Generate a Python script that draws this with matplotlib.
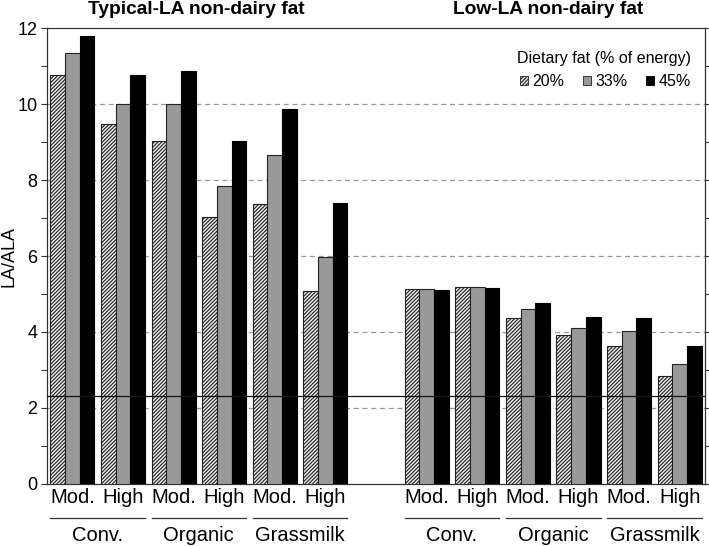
import matplotlib
matplotlib.use("Agg")
import matplotlib.pyplot as plt
from matplotlib.patches import Patch
import numpy as np

plt.rcParams['font.family'] = ['Liberation Sans', 'DejaVu Sans']
plt.rcParams['hatch.linewidth'] = 0.8
plt.rcParams['hatch.color'] = '#222222'

# Data
levels = ["Mod.", "High", "Mod.", "High", "Mod.", "High"]
milk_types = ["Conv.", "Organic", "Grassmilk"]
series_labels = ["20%", "33%", "45%"]
typical_20 = [10.76, 9.48, 9.02, 7.04, 7.37, 5.09]
typical_33 = [11.34, 10.01, 10.00, 7.84, 8.65, 5.97]
typical_45 = [11.80, 10.78, 10.88, 9.03, 9.87, 7.39]
low_20 = [5.14, 5.19, 4.37, 3.91, 3.62, 2.83]
low_33 = [5.12, 5.18, 4.60, 4.11, 4.03, 3.15]
low_45 = [5.10, 5.15, 4.77, 4.38, 4.37, 3.63]
reference_line = 2.3
panel_titles = ["Typical-LA non-dairy fat", "Low-LA non-dairy fat"]

fig = plt.figure(figsize=(7.09, 5.46), dpi=100)
ax = fig.add_axes([0.0663, 0.1141, 0.9281, 0.8340])

x_left = np.arange(6)
x_right = np.arange(6) + 7
w = 0.29

styles = [dict(facecolor='#e8e8e8', hatch='/////////', edgecolor='#222222'),
          dict(facecolor='#999999', edgecolor='#222222'),
          dict(facecolor='black', edgecolor='black')]

left_series = [typical_20, typical_33, typical_45]
right_series = [low_20, low_33, low_45]
for i in range(3):
    off = (i - 1) * w
    ax.bar(x_left + off, left_series[i], width=w, linewidth=0.8, zorder=3, **styles[i])
    ax.bar(x_right + off, right_series[i], width=w, linewidth=0.8, zorder=3, **styles[i])

ax.axhline(reference_line, color='#111111', linewidth=0.9, zorder=5)

for yv in [2, 4, 6, 8, 10]:
    ax.axhline(yv, color='#999999', linestyle=(0, (4, 3)), linewidth=0.9, zorder=1)

ax.set_xlim(-0.5, 12.5)
ax.set_ylim(0, 12)
ax.set_yticks(np.arange(0, 13, 2))
ax.set_yticks(np.arange(1, 13, 2), minor=True)
ax.tick_params(axis='y', which='both', direction='out', length=4, width=0.8,
               labelsize=13, right=True, left=True, pad=3, color='#333333')
ax.set_xticks(list(x_left) + list(x_right))
ax.set_xticklabels(levels + levels, fontsize=14.5)
ax.tick_params(axis='x', length=0, pad=3)
for s in ax.spines.values():
    s.set_linewidth(0.9)
    s.set_color('#333333')

ax.set_ylabel("LA/ALA", fontsize=13)
ax.yaxis.set_label_coords(-0.045, 0.5)

trans = matplotlib.transforms.blended_transform_factory(ax.transData, ax.transAxes)
for base in [0, 7]:
    for g, name in enumerate(milk_types):
        x0 = base + 2 * g - 1.5 * w
        x1 = base + 2 * g + 1 + 1.5 * w
        ax.plot([x0, x1], [-0.075, -0.075], color='#333333', linewidth=0.9,
                transform=trans, clip_on=False)
        ax.text((x0 + x1) / 2, -0.113, name, fontsize=14.5, ha='center', va='center',
                transform=trans)

ax.text(2.45, 1.042, panel_titles[0], fontsize=13.8, fontweight='bold',
        ha='center', va='center', transform=trans)
ax.text(9.4, 1.042, panel_titles[1], fontsize=13.8, fontweight='bold',
        ha='center', va='center', transform=trans)

handles = [Patch(linewidth=0.6, **styles[i]) for i in range(3)]
leg = ax.legend(handles, series_labels, ncol=3, title="Dietary fat (% of energy)",
                frameon=False, loc='upper right', bbox_to_anchor=(0.995, 0.975),
                fontsize=11.5, title_fontsize=11.5, handlelength=0.5, handleheight=0.5,
                handletextpad=0.25, columnspacing=1.2, borderpad=0.2, labelspacing=0.2)
leg._legend_box.align = "right"
leg._legend_box.sep = 6

fig.savefig("out.png", dpi=100)
